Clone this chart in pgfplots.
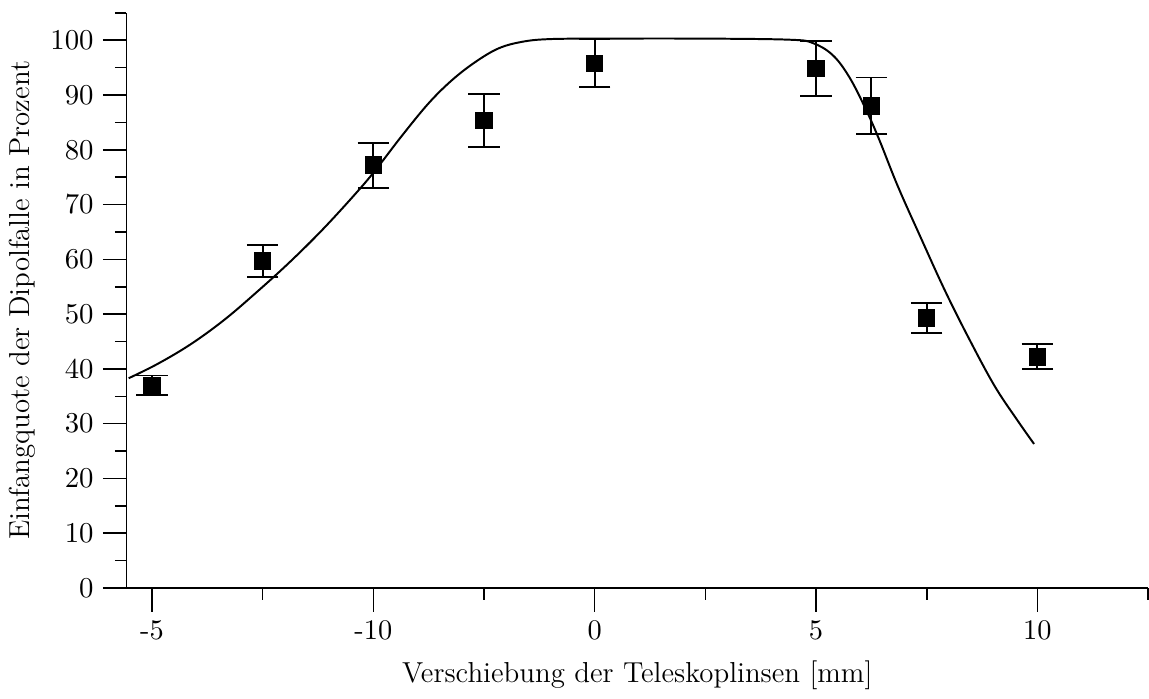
\documentclass[border=0pt]{standalone}
\usepackage{pgfplots}
\pgfplotsset{compat=1.18}
\begin{document}
\begin{tikzpicture}
\begin{axis}[
  scale only axis,
  width=389pt, height=219pt,
  xmin=-4.23, xmax=5, ymin=0, ymax=105,
  axis lines*=left,
  axis line style={line width=0.7pt},
  every tick/.style={black, line width=0.6pt},
  tick align=outside,
  major tick length=9pt,
  minor tick length=4.4pt,
  xtick={-4,-2,0,2,4},
  xticklabels={-5,-10,0,5,10},
  minor xtick={-3,-1,1,3,5},
  ytick={0,10,...,100},
  minor ytick={5,15,...,105},
  tick label style={font=\fontsize{10.8}{13}\selectfont},
  label style={font=\fontsize{11}{13}\selectfont},
  ylabel style={yshift=-1pt},
  xlabel style={yshift=-1pt},
  xlabel={Verschiebung der Teleskoplinsen [mm]},
  ylabel={Einfangquote der Dipolfalle in Prozent},
  clip=false,
]
% Fitted transmission curve
\addplot[black, line width=0.75pt, smooth, tension=0.6] coordinates {
  (-4.21,38.3) (-3.95,40.9) (-3.65,44.5) (-3.35,48.9) (-3.06,53.9)
  (-2.76,59.4) (-2.46,65.4) (-2.16,72.0) (-1.98,76.3)
  (-1.74,82.6) (-1.50,88.5) (-1.29,92.7) (-1.08,96.0) (-0.87,98.5)
  (-0.66,99.7) (-0.42,100.2) (0.05,100.3) (1.0,100.3) (1.76,100.1)
  (1.97,99.5) (2.15,97.3) (2.30,93.3) (2.45,87.4) (2.57,81.9)
  (2.74,73.3) (2.95,63.8) (3.16,54.5) (3.37,46.0) (3.61,37.0)
  (3.82,30.6) (3.97,26.3)
};
% Measured capture efficiencies
\addplot[black, only marks, mark=square*, mark size=3.1pt,
  error bars/.cd, y dir=both, y explicit,
  error bar style={line width=0.75pt},
  error mark options={rotate=90, mark size=6pt, line width=0.75pt}]
  coordinates {
  (-4,37.0) +- (0,1.8)
  (-3,59.7) +- (0,3.0)
  (-2,77.2) +- (0,4.1)
  (-1,85.4) +- (0,4.8)
  (0,95.8) +- (0,4.4)
  (2,94.9) +- (0,5.0)
  (2.5,88.0) +- (0,5.2)
  (3,49.3) +- (0,2.7)
  (4,42.2) +- (0,2.3)
};
\end{axis}
\path ([yshift=4.9pt]current axis.north);
\end{tikzpicture}
\end{document}
